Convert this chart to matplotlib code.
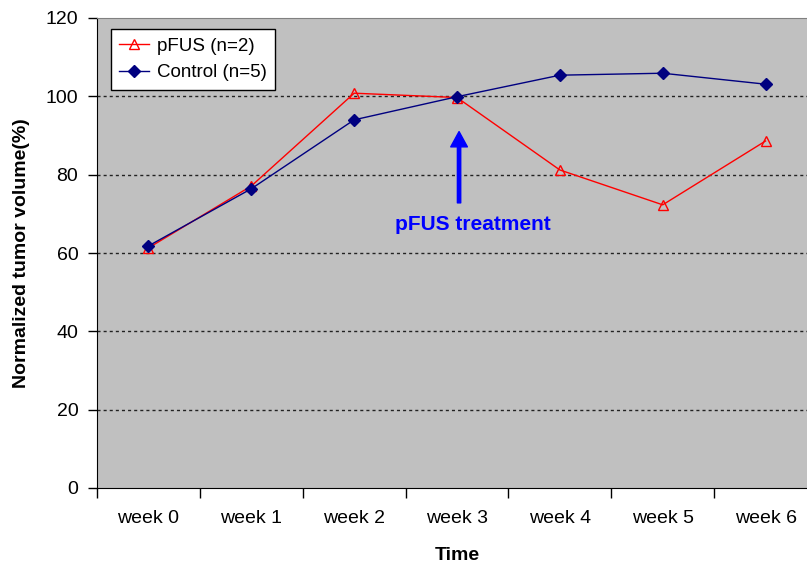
import matplotlib
matplotlib.use('Agg')
import matplotlib.pyplot as plt
import numpy as np

# 데이터 ======================================================================
weeks = ['week 0', 'week 1', 'week 2', 'week 3', 'week 4', 'week 5', 'week 6']
pfus = [61.3, 77.1, 100.8, 99.7, 81.2, 72.3, 88.6]
control = [61.8, 76.4, 94.0, 99.9, 105.4, 105.9, 103.1]
yticks = [0, 20, 40, 60, 80, 100, 120]

# 그래프 그리기 ================================================================
plt.rcParams['font.family'] = ['Liberation Sans', 'DejaVu Sans']

fig = plt.figure(figsize=(8.07, 5.64), dpi=100)
ax = fig.add_axes([97/807, 1 - 488/564, 720/807, 470/564])
ax.set_facecolor('#C0C0C0')

x = np.arange(len(weeks))
ax.plot(x, pfus, color='#FF0000', linewidth=1, marker='^', markersize=7.5,
        markerfacecolor='none', markeredgecolor='#FF0000', markeredgewidth=1,
        label='pFUS (n=2)', zorder=3)
ax.plot(x, control, color='#000080', linewidth=1, marker='D', markersize=6,
        markerfacecolor='#000080', markeredgecolor='#000080',
        label='Control (n=5)', zorder=4)

ax.set_xlim(-0.5, len(weeks) - 0.5)
ax.set_ylim(0, 120)

# 점선 그리드 (20~100)
for v in yticks[1:-1]:
    ax.axhline(v, color='#222222', linewidth=1, linestyle=(0, (2.2, 2.2)), zorder=1)

# y축
ax.set_yticks(yticks)
ax.tick_params(axis='y', direction='out', length=6.5, width=1, pad=7, labelsize=14)

# x축: 눈금은 경계, 라벨은 가운데
ax.set_xticks(np.arange(-0.5, len(weeks)))
ax.set_xticklabels([])
ax.set_xticks(x, minor=True)
ax.set_xticklabels(weeks, minor=True)
ax.tick_params(axis='x', which='major', direction='out', length=7, width=1)
ax.tick_params(axis='x', which='minor', length=0, pad=16, labelsize=14)

ax.spines['left'].set_color('black')
ax.spines['bottom'].set_color('black')
ax.spines['top'].set_color('#808080')
ax.spines['right'].set_color('#808080')

ax.set_xlabel('Time', fontsize=14, fontweight='bold', labelpad=14)
ax.set_ylabel('Normalized tumor volume(%)', fontsize=14, fontweight='bold', labelpad=11)

# 화살표 + 텍스트
ax.annotate('', xy=(3.02, 91), xytext=(3.02, 72.8),
            arrowprops=dict(width=2.4, headwidth=12, headlength=11,
                            color='#0000FF', shrink=0))
ax.text(3.15, 67.4, 'pFUS treatment', color='#0000FF', fontsize=15,
        fontweight='bold', ha='center', va='center')

leg = ax.legend(loc='upper left', bbox_to_anchor=(0.019, 0.976), borderaxespad=0,
                fontsize=13.5, fancybox=False, framealpha=1, edgecolor='black',
                handlelength=1.6, handletextpad=0.4, labelspacing=0.5, borderpad=0.45)
leg.get_frame().set_linewidth(1)

fig.savefig('out.png', dpi=100)
